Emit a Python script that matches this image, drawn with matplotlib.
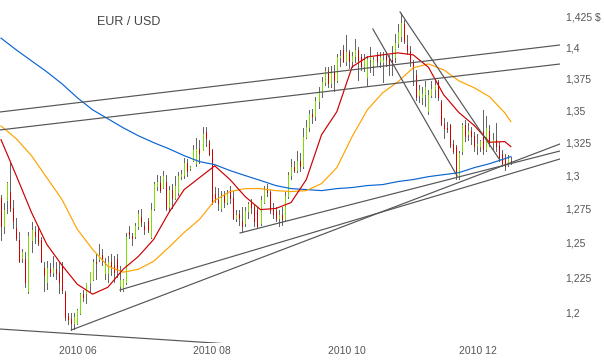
import matplotlib
matplotlib.use("Agg")
import matplotlib.pyplot as plt
import pandas as pd

# --- daily EUR/USD bars, 2010-05-05 .. 2010-12-24 (business days) ----------
opens = [
    1.283, 1.262, 1.281, 1.287, 1.275, 1.261, 1.252, 1.239, 1.238, 1.215,
    1.252, 1.258, 1.259, 1.252, 1.232, 1.222, 1.231, 1.229, 1.231, 1.228,
    1.233, 1.214, 1.198, 1.196, 1.193, 1.193, 1.200, 1.213, 1.214, 1.222,
    1.224, 1.236, 1.238, 1.241, 1.228, 1.228, 1.236, 1.233, 1.238, 1.219,
    1.217, 1.222, 1.258, 1.255, 1.2545, 1.262, 1.269, 1.262, 1.266, 1.254,
    1.275, 1.292, 1.294, 1.291, 1.295, 1.276, 1.289, 1.283, 1.287, 1.299,
    1.300, 1.309, 1.305, 1.3117, 1.309, 1.3195, 1.319, 1.333, 1.325, 1.319,
    1.286, 1.281, 1.275, 1.285, 1.280, 1.289, 1.283, 1.268, 1.271, 1.266,
    1.264, 1.273, 1.279, 1.276, 1.274, 1.264, 1.280, 1.289, 1.287, 1.274,
    1.273, 1.268, 1.270, 1.267, 1.284, 1.300, 1.306, 1.304, 1.311, 1.307,
    1.329, 1.337, 1.347, 1.345, 1.357, 1.364, 1.372, 1.381, 1.371, 1.380,
    1.374, 1.392, 1.398, 1.389, 1.396, 1.389, 1.393, 1.398, 1.392, 1.385,
    1.376, 1.391, 1.386, 1.394, 1.389, 1.388, 1.393, 1.391, 1.390, 1.392,
    1.404, 1.409, 1.419, 1.402, 1.397, 1.388, 1.378, 1.362, 1.360, 1.363,
    1.349, 1.362, 1.367, 1.372, 1.356, 1.339, 1.336, 1.338, 1.324, 1.321,
    1.300, 1.318, 1.338, 1.331, 1.334, 1.330, 1.323, 1.322, 1.334, 1.320,
    1.334, 1.325, 1.327, 1.322, 1.316, 1.313, 1.308, 1.311,
]
highs = [
    1.285, 1.279, 1.295, 1.309, 1.281, 1.268, 1.258, 1.245, 1.243, 1.258,
    1.265, 1.262, 1.262, 1.254, 1.236, 1.237, 1.235, 1.240, 1.236, 1.236,
    1.236, 1.215, 1.200, 1.200, 1.200, 1.203, 1.214, 1.216, 1.221, 1.229,
    1.238, 1.242, 1.249, 1.245, 1.239, 1.240, 1.242, 1.240, 1.242, 1.233,
    1.224, 1.257, 1.262, 1.257, 1.264, 1.274, 1.2745, 1.265, 1.268, 1.279,
    1.295, 1.300, 1.299, 1.303, 1.300, 1.292, 1.293, 1.299, 1.302, 1.304,
    1.313, 1.312, 1.307, 1.323, 1.328, 1.327, 1.3365, 1.337, 1.327, 1.320,
    1.291, 1.290, 1.288, 1.288, 1.289, 1.292, 1.288, 1.274, 1.274, 1.276,
    1.276, 1.280, 1.282, 1.278, 1.276, 1.284, 1.292, 1.293, 1.289, 1.279,
    1.276, 1.274, 1.276, 1.287, 1.302, 1.312, 1.311, 1.318, 1.317, 1.336,
    1.342, 1.350, 1.351, 1.360, 1.368, 1.376, 1.384, 1.384, 1.385, 1.386,
    1.395, 1.398, 1.402, 1.410, 1.398, 1.396, 1.407, 1.400, 1.395, 1.395,
    1.393, 1.400, 1.392, 1.396, 1.396, 1.396, 1.396, 1.394, 1.401, 1.411,
    1.419, 1.4285, 1.4225, 1.410, 1.401, 1.390, 1.382, 1.370, 1.368, 1.373,
    1.366, 1.373, 1.375, 1.374, 1.358, 1.344, 1.341, 1.339, 1.327, 1.323,
    1.318, 1.340, 1.342, 1.340, 1.337, 1.333, 1.331, 1.327, 1.350, 1.345,
    1.338, 1.332, 1.340, 1.325, 1.319, 1.316, 1.315, 1.314,
]
lows = [
    1.252, 1.257, 1.272, 1.273, 1.261, 1.252, 1.236, 1.236, 1.218, 1.214,
    1.243, 1.250, 1.248, 1.236, 1.215, 1.217, 1.226, 1.226, 1.224, 1.214,
    1.214, 1.195, 1.192, 1.188, 1.189, 1.192, 1.199, 1.208, 1.207, 1.215,
    1.223, 1.224, 1.237, 1.234, 1.224, 1.222, 1.227, 1.222, 1.225, 1.215,
    1.215, 1.220, 1.253, 1.248, 1.253, 1.260, 1.262, 1.2565, 1.258, 1.253,
    1.274, 1.289, 1.287, 1.290, 1.274, 1.273, 1.275, 1.282, 1.285, 1.297,
    1.298, 1.299, 1.3035, 1.3105, 1.307, 1.309, 1.319, 1.322, 1.315, 1.278,
    1.280, 1.274, 1.273, 1.276, 1.278, 1.279, 1.267, 1.266, 1.263, 1.258,
    1.262, 1.268, 1.272, 1.262, 1.261, 1.263, 1.279, 1.284, 1.272, 1.268,
    1.266, 1.262, 1.263, 1.266, 1.283, 1.297, 1.302, 1.302, 1.303, 1.305,
    1.328, 1.334, 1.340, 1.342, 1.352, 1.360, 1.370, 1.368, 1.368, 1.365,
    1.372, 1.385, 1.388, 1.386, 1.383, 1.384, 1.388, 1.374, 1.382, 1.381,
    1.370, 1.380, 1.378, 1.385, 1.384, 1.372, 1.385, 1.378, 1.378, 1.388,
    1.400, 1.405, 1.404, 1.395, 1.385, 1.370, 1.358, 1.356, 1.355, 1.353,
    1.347, 1.360, 1.360, 1.358, 1.338, 1.328, 1.333, 1.321, 1.317, 1.297,
    1.297, 1.316, 1.326, 1.327, 1.324, 1.318, 1.316, 1.318, 1.316, 1.318,
    1.322, 1.320, 1.318, 1.311, 1.307, 1.304, 1.307, 1.308,
]
closes = [
    1.262, 1.274, 1.294, 1.275, 1.266, 1.253, 1.237, 1.243, 1.222, 1.255,
    1.259, 1.255, 1.250, 1.237, 1.227, 1.232, 1.229, 1.232, 1.228, 1.222,
    1.216, 1.197, 1.196, 1.193, 1.197, 1.202, 1.213, 1.211, 1.221, 1.229,
    1.236, 1.235, 1.241, 1.238, 1.234, 1.236, 1.233, 1.229, 1.230, 1.223,
    1.223, 1.254, 1.256, 1.253, 1.262, 1.271, 1.265, 1.260, 1.259, 1.274,
    1.293, 1.295, 1.289, 1.299, 1.275, 1.289, 1.283, 1.292, 1.299, 1.301,
    1.3095, 1.303, 1.306, 1.3193, 1.3195, 1.317, 1.331, 1.328, 1.316, 1.279,
    1.281, 1.279, 1.283, 1.280, 1.286, 1.283, 1.268, 1.270, 1.268, 1.262,
    1.273, 1.278, 1.276, 1.266, 1.262, 1.281, 1.289, 1.287, 1.274, 1.271,
    1.268, 1.270, 1.267, 1.284, 1.300, 1.306, 1.304, 1.311, 1.307, 1.329,
    1.337, 1.347, 1.345, 1.357, 1.364, 1.372, 1.381, 1.371, 1.380, 1.374,
    1.392, 1.393, 1.389, 1.396, 1.389, 1.393, 1.398, 1.390, 1.385, 1.390,
    1.391, 1.393, 1.390, 1.389, 1.392, 1.390, 1.391, 1.386, 1.389, 1.404,
    1.413, 1.420, 1.405, 1.398, 1.388, 1.383, 1.360, 1.366, 1.363, 1.368,
    1.362, 1.367, 1.370, 1.360, 1.339, 1.336, 1.335, 1.323, 1.318, 1.300,
    1.317, 1.338, 1.330, 1.334, 1.330, 1.322, 1.324, 1.326, 1.320, 1.336,
    1.324, 1.327, 1.322, 1.314, 1.309, 1.307, 1.312, 1.310,
]

# --- moving averages, read every 5th bar -----------------------------------
ma_bar = [0, 5, 10, 15, 20, 25, 30, 35, 40, 45, 50, 55, 60, 65, 70, 75, 80,
          85, 90, 95, 100, 105, 110, 115, 120, 125, 130, 135, 140, 145, 150,
          155, 160, 165, 167]
ma_fast = [1.327, 1.2996, 1.272, 1.2487, 1.2336, 1.2201, 1.2131, 1.218,
           1.2308, 1.240, 1.2523, 1.272, 1.2891, 1.298, 1.307, 1.2966,
           1.2838, 1.2742, 1.275, 1.2794, 1.2966, 1.3308, 1.3487, 1.3843,
           1.3923, 1.394, 1.3956, 1.394, 1.384, 1.362, 1.348, 1.338, 1.325,
           1.3255, 1.3217]
ma_mid = [1.3376, 1.3277, 1.3147, 1.298, 1.2816, 1.2596, 1.2451, 1.233,
          1.2287, 1.2308, 1.2365, 1.2466, 1.2574, 1.2669, 1.281, 1.2876,
          1.2898, 1.2898, 1.2883, 1.2876, 1.2883, 1.2936, 1.3056, 1.3293,
          1.3502, 1.3636, 1.3723, 1.3835, 1.3867, 1.3819, 1.3731, 1.3676,
          1.3605, 1.3479, 1.341]
ma_slow = [1.4076, 1.398, 1.3891, 1.3803, 1.3707, 1.3597, 1.3502, 1.3432,
           1.3362, 1.33, 1.3247, 1.32, 1.3147, 1.3102, 1.3079, 1.3034,
           1.2996, 1.2959, 1.2921, 1.2898, 1.2891, 1.2883, 1.2898, 1.2906,
           1.2921, 1.2928, 1.2951, 1.2966, 1.2988, 1.3003, 1.3018, 1.3056,
           1.3086, 1.3124, 1.314]

# --- hand-drawn trend lines: (bar, price) -> (bar, price) --------------------
trend_lines = [
    ((-0.3, 1.3485), (183.1, 1.4020)),
    ((-0.3, 1.3345), (183.1, 1.3866)),
    ((-0.3, 1.1888), (100.0, 1.1751)),
    ((23.0, 1.1881), (183.1, 1.3237)),
    ((39.0, 1.2161), (183.1, 1.3122)),
    ((78.3, 1.2570), (183.1, 1.3183)),
    ((130.7, 1.4291), (163.4, 1.3114)),
    ((121.8, 1.4151), (149.4, 1.2993)),
]

price_ticks = [1.2, 1.225, 1.25, 1.275, 1.3, 1.325, 1.35, 1.375, 1.4, 1.425]
price_labels = ["1,2", "1,225", "1,25", "1,275", "1,3", "1,325", "1,35",
                "1,375", "1,4", "1,425 $"]
month_labels = {6: "2010 06", 8: "2010 08", 10: "2010 10", 12: "2010 12"}

GREY = "#666666"
UP = "#7fdc00"
DOWN = "#d00000"
PX = 0.72  # one pixel at 100 dpi

plt.rcParams["font.family"] = ["Liberation Sans", "DejaVu Sans"]

dates = pd.bdate_range("2010-05-05", "2010-12-24")[: len(closes)]
bars = list(range(len(closes)))

fig = plt.figure(figsize=(6.04, 3.6), dpi=100)
ax = fig.add_axes([0.0, 1 - 343 / 360, 560 / 604, 343 / 360])

ax.vlines(bars, lows, highs, colors=GREY, linewidth=PX, antialiased=False, zorder=2)
body_lo = [min(o, c) for o, c in zip(opens, closes)]
body_hi = [max(o, c) for o, c in zip(opens, closes)]
body_col = [UP if c >= o else DOWN for o, c in zip(opens, closes)]
ax.vlines(bars, body_lo, body_hi, colors=body_col, linewidth=PX,
          antialiased=False, zorder=3)

ax.plot(ma_bar, ma_slow, color="#0a64d2", linewidth=0.85, zorder=4)
ax.plot(ma_bar, ma_mid, color="#ffa200", linewidth=0.85, zorder=4)
ax.plot(ma_bar, ma_fast, color="#cc0000", linewidth=0.85, zorder=4)

for (x0, p0), (x1, p1) in trend_lines:
    ax.plot([x0, x1], [p0, p1], color="#555555", linewidth=0.85, zorder=5)

ax.set_yscale("log")
ax.set_ylim(1.1792, 1.4391)
ax.set_xlim(-0.33, 183.1)
ax.minorticks_off()
ax.set_yticks(price_ticks)
ax.set_yticklabels(price_labels)
ax.yaxis.tick_right()
ax.tick_params(axis="y", length=0, pad=4, labelsize=7.5, labelcolor="#555555")

tick_pos, tick_txt = [], []
for m, label in month_labels.items():
    first = next(i for i, d in enumerate(dates) if d.month == m)
    tick_pos.append(first)
    tick_txt.append(label)
ax.set_xticks(tick_pos)
ax.set_xticklabels(tick_txt, ha="left")
ax.tick_params(axis="x", length=0, pad=2, labelsize=7.5, labelcolor="#555555")

for s in ax.spines.values():
    s.set_visible(False)
ax.set_facecolor("white")

fig.text(97 / 604, 1 - 22 / 360, "EUR / USD", fontsize=9, color="#444444",
         va="center", ha="left")

fig.savefig("out.png", dpi=100, facecolor="white")
